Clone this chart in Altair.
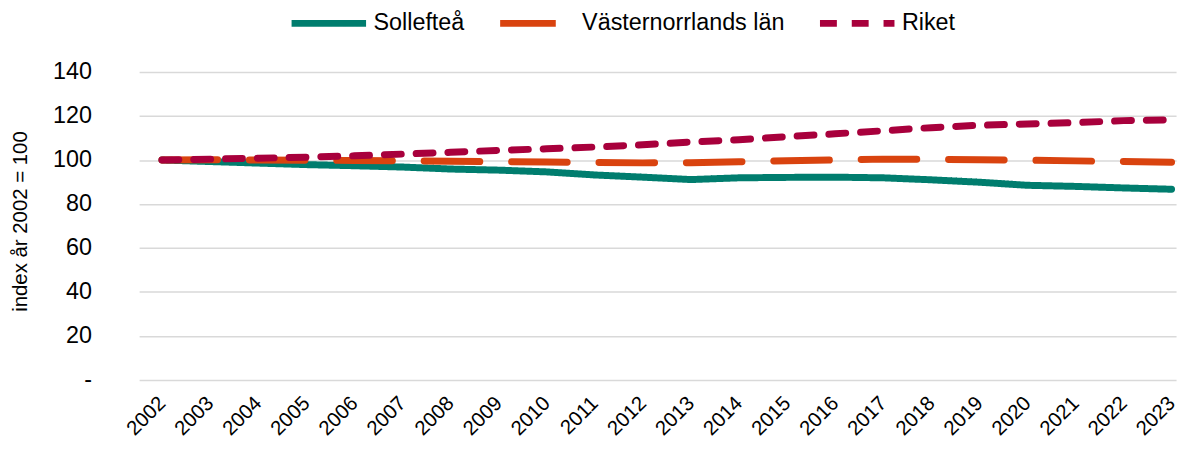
import altair as alt
import pandas as pd

years = list(range(2002, 2024))
series_names = ["Sollefteå", "Västernorrlands län", "Riket"]
solleftea = [100.0, 99.3, 98.6, 97.9, 97.4, 96.8, 95.9, 95.4, 94.6, 93.2, 92.2, 91.1,
             91.9, 92.1, 92.2, 91.9, 91.0, 89.9, 88.5, 88.0, 87.3, 86.7]
vasternorrland = [100.0, 100.1, 100.0, 99.9, 99.8, 99.6, 99.4, 99.2, 99.1, 98.9, 98.7, 98.8,
                  99.2, 99.7, 100.0, 100.4, 100.3, 100.1, 99.9, 99.6, 99.3, 99.0]
riket = [100.0, 100.4, 100.8, 101.3, 101.9, 102.7, 103.5, 104.4, 105.1, 105.9, 106.9, 108.2,
         109.2, 110.6, 111.9, 113.3, 114.7, 115.8, 116.4, 117.0, 117.9, 118.3]
y_ticks = [0, 20, 40, 60, 80, 100, 120, 140]
colors = ["#007D6E", "#D9430F", "#A8003C"]
dashes = [[1, 0], [56, 32], [17, 15]]

rows = []
for name, vals in zip(series_names, [solleftea, vasternorrland, riket]):
    for yr, v in zip(years, vals):
        rows.append({"year": yr, "series": name, "value": v})
df = pd.DataFrame(rows)

FONT = "Liberation Sans"

legend = alt.Legend(
    title=None, orient="none", direction="horizontal", legendX=150, legendY=-90,
    symbolType="stroke", symbolSize=5625, symbolStrokeWidth=7,
    labelFont=FONT, labelFontSize=23.5, labelColor="#000000", labelOffset=4,
    labelLimit=0, columnPadding=21, padding=0,
)

chart = alt.Chart(df).mark_line(
    strokeWidth=7, strokeCap="round", strokeJoin="round"
).encode(
    x=alt.X("year:Q",
            scale=alt.Scale(domain=[2001.5248, 2023.093], nice=False, zero=False),
            axis=alt.Axis(values=years, format="d", labelAngle=-45, labelAlign="right",
                          labelBaseline="middle", labelPadding=20, ticks=False, domain=False,
                          grid=False, title=None, labelFont=FONT, labelFontSize=20.5,
                          labelColor="#000000", labelOverlap=False, labelBound=False,
                          labelFlush=False)),
    y=alt.Y("value:Q",
            scale=alt.Scale(domain=[0, 140], nice=False, zero=True),
            axis=alt.Axis(values=y_ticks,
                          labelExpr="datum.value == 0 ? '-' : datum.label",
                          ticks=False, domain=False, grid=True, gridColor="#D9D9D9",
                          gridWidth=1.5, labelPadding=48, labelFont=FONT,
                          labelFontSize=23.5, labelColor="#000000",
                          title="index år 2002 = 100", titleFont=FONT, titleFontSize=20.5,
                          titleFontWeight="normal", titleColor="#000000",
                          titlePadding=22, titleY=150)),
    color=alt.Color("series:N", scale=alt.Scale(domain=series_names, range=colors),
                    legend=legend),
    strokeDash=alt.StrokeDash("series:N", scale=alt.Scale(domain=series_names, range=dashes),
                              legend=legend),
).properties(
    width=1044, height=310,
    autosize=alt.AutoSizeParams(type="none"),
    padding={"left": 132, "top": 63, "right": 8, "bottom": 60},
).configure_view(stroke=None)

chart.save("out.html", embed_options={"renderer": "svg", "actions": False})
